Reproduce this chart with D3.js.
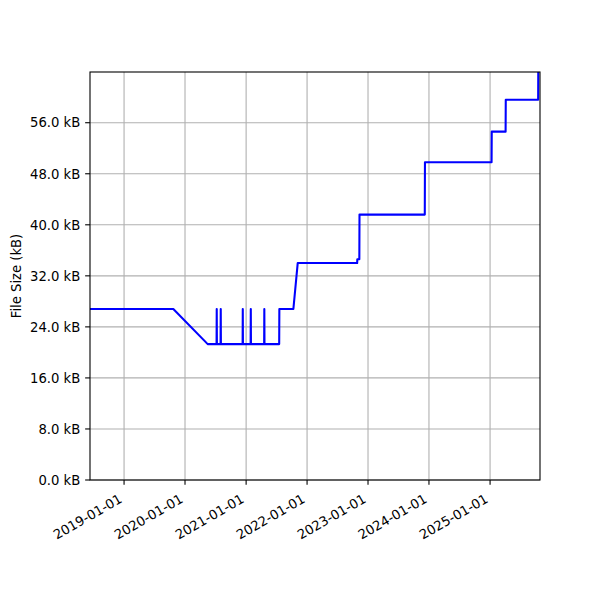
<!DOCTYPE html>
<html>
<head>
<meta charset="utf-8">
<script src="https://cdn.jsdelivr.net/npm/d3@7"></script>
<style>
  html, body { margin: 0; padding: 0; background: #fff; }
  svg { display: block; }
  text { font-family: "DejaVu Sans", sans-serif; }
</style>
</head>
<body>
<svg id="chart" width="600" height="600"></svg>
<script>
// ---- data ----
const dates = [
  "2018-06-11", "2019-10-23", "2020-05-16",
  "2020-07-08", "2020-07-09", "2020-07-10",
  "2020-08-01", "2020-08-02", "2020-08-03",
  "2020-12-11", "2020-12-12", "2020-12-13",
  "2021-01-28", "2021-01-29", "2021-01-30",
  "2021-04-19", "2021-04-20", "2021-04-21",
  "2021-07-18", "2021-07-19", "2021-10-11", "2021-11-06",
  "2022-10-28", "2022-10-29", "2022-11-10", "2022-11-11",
  "2023-12-07", "2023-12-08", "2025-01-10", "2025-01-11",
  "2025-04-04", "2025-04-05", "2025-10-16", "2025-10-17", "2025-10-27"
];
const sizes = [
  26.8, 26.8, 21.3,
  21.3, 26.8, 21.3,
  21.3, 26.8, 21.3,
  21.3, 26.8, 21.3,
  21.3, 26.8, 21.3,
  21.3, 26.8, 21.3,
  21.3, 26.8, 26.8, 34.0,
  34.0, 34.6, 34.6, 41.6,
  41.6, 49.8, 49.8, 54.6,
  54.6, 59.6, 59.6, 66.0, 66.0
];
const xDomain = ["2018-06-11", "2025-10-27"];
const yDomain = [0, 63.95];
const xTicks = ["2019-01-01", "2020-01-01", "2021-01-01", "2022-01-01", "2023-01-01", "2024-01-01", "2025-01-01"];
const yTicks = [0, 8, 16, 24, 32, 40, 48, 56];
const yTickLabels = ["0.0 kB", "8.0 kB", "16.0 kB", "24.0 kB", "32.0 kB", "40.0 kB", "48.0 kB", "56.0 kB"];
const yLabel = "File Size (kB)";

// ---- layout ----
const parse = d3.utcParse("%Y-%m-%d");
const mL = 90, mR = 540, mT = 72, mB = 480;
const tickLen = 4.86, fs = "13.2px";
const svg = d3.select("#chart");

const x = d3.scaleUtc().domain(xDomain.map(parse)).range([mL, mR]);
const y = d3.scaleLinear().domain(yDomain).range([mB, mT]);

svg.append("defs").append("clipPath").attr("id", "clip")
  .append("rect").attr("x", mL).attr("y", mT).attr("width", mR - mL).attr("height", mB - mT);

// grid
const grid = svg.append("g");
xTicks.forEach(t => {
  const px = x(parse(t));
  grid.append("line").attr("x1", px).attr("x2", px).attr("y1", mT).attr("y2", mB)
    .attr("stroke", "#b0b0b0").attr("stroke-width", 1.1);
});
yTicks.forEach(t => {
  const py = y(t);
  grid.append("line").attr("x1", mL).attr("x2", mR).attr("y1", py).attr("y2", py)
    .attr("stroke", "#b0b0b0").attr("stroke-width", 1.1);
});

// line
const data = dates.map((d, i) => ({ date: parse(d), v: sizes[i] }));
const line = d3.line().x(d => x(d.date)).y(d => y(d.v));
svg.append("path").datum(data)
  .attr("clip-path", "url(#clip)")
  .attr("d", line)
  .attr("fill", "none")
  .attr("stroke", "#0000ff")
  .attr("stroke-width", 2.08)
  .attr("stroke-linejoin", "round");

// spines
svg.append("rect").attr("x", mL).attr("y", mT).attr("width", mR - mL).attr("height", mB - mT)
  .attr("fill", "none").attr("stroke", "#000").attr("stroke-width", 1.1);

// x axis ticks
const xa = svg.append("g");
xTicks.forEach(t => {
  const px = x(parse(t));
  xa.append("line").attr("x1", px).attr("x2", px).attr("y1", mB).attr("y2", mB + tickLen)
    .attr("stroke", "#000").attr("stroke-width", 1.1);
  xa.append("text")
    .attr("transform", `translate(${px - 1},${mB + 21.5}) rotate(-30)`)
    .attr("text-anchor", "end")
    .attr("font-size", fs)
    .attr("fill", "#000")
    .text(t);
});

// y axis ticks
const ya = svg.append("g");
yTicks.forEach((t, i) => {
  const py = y(t);
  ya.append("line").attr("x1", mL - tickLen).attr("x2", mL).attr("y1", py).attr("y2", py)
    .attr("stroke", "#000").attr("stroke-width", 1.1);
  ya.append("text")
    .attr("x", mL - 2 * tickLen).attr("y", py).attr("dy", "0.36em")
    .attr("text-anchor", "end")
    .attr("font-size", fs)
    .attr("fill", "#000")
    .text(yTickLabels[i]);
});

// y label
svg.append("text")
  .attr("transform", `translate(21,${(mT + mB) / 2}) rotate(-90)`)
  .attr("text-anchor", "middle")
  .attr("font-size", fs)
  .attr("fill", "#000")
  .text(yLabel);
</script>
</body>
</html>
